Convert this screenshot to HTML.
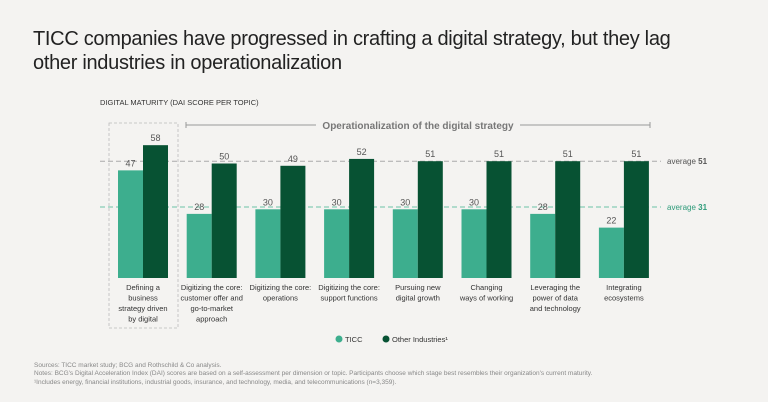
<!DOCTYPE html>
<html><head><meta charset="utf-8"><style>
body{margin:0;background:#f4f3f1;font-family:"Liberation Sans",sans-serif;}
#wrap{position:relative;width:768px;height:402px;overflow:hidden;}
.t{position:absolute;}
</style></head><body>
<div id="wrap">
<div class="t" style="left:33px;top:27px;font-size:20px;line-height:24px;color:#222;width:650px;letter-spacing:-0.3px">TICC companies have progressed in crafting a digital strategy, but they lag other industries in operationalization</div>
<div class="t" style="left:100px;top:98px;font-size:7.5px;color:#333">DIGITAL MATURITY (DAI SCORE PER TOPIC)</div>
<svg id="c" width="768" height="402" style="position:absolute;left:0;top:0"></svg>
<div class="t" style="left:34px;top:362px;font-size:6.5px;line-height:8.4px;color:#888">Sources: TICC market study; BCG and Rothschild &amp; Co analysis.<br>Notes: BCG's Digital Acceleration Index (DAI) scores are based on a self-assessment per dimension or topic. Participants choose which stage best resembles their organization's current maturity.<br>¹Includes energy, financial institutions, industrial goods, insurance, and technology, media, and telecommunications (n=3,359).</div>
</div>
<script>
const categories=[["Defining a","business","strategy driven","by digital"],["Digitizing the core:","customer offer and","go-to-market","approach"],["Digitizing the core:","operations"],["Digitizing the core:","support functions"],["Pursuing new","digital growth"],["Changing","ways of working"],["Leveraging the","power of data","and technology"],["Integrating","ecosystems"]];
const ticc=[47,28,30,30,30,30,28,22];
const other=[58,50,49,52,51,51,51,51];
const averages=[51,31];
const svg=document.getElementById('c');
const NS='http://www.w3.org/2000/svg';
const base=278,k=2.29;
const y=v=>base-v*k;
const cx=i=>143+i*68.7;
function mk(tag,a,txt){const e=document.createElementNS(NS,tag);for(const n in a)e.setAttribute(n,a[n]);if(txt!=null)e.textContent=txt;svg.appendChild(e);return e;}
const avgCol=['#aaa','#6cc3a8'],avgTxt=['#555','#2e9b7a'];
averages.forEach((a,j)=>{
 let l=mk('line',{x1:100,x2:661,y1:y(a),y2:y(a),stroke:avgCol[j],'stroke-dasharray':'5,3','stroke-width':1});
 
 let t=mk('text',{x:667,y:y(a)+3,'font-size':8,fill:avgTxt[j]},'average ');
 const ts=document.createElementNS(NS,'tspan');ts.setAttribute('font-weight','bold');ts.textContent=a;t.appendChild(ts);
 
});
let bx=mk('rect',{x:109,y:123,width:69,height:205,fill:'none',stroke:'#bbb','stroke-dasharray':'3,2','stroke-width':0.8});

mk('line',{x1:186,x2:316,y1:125,y2:125,stroke:'#999'});
mk('line',{x1:520,x2:650,y1:125,y2:125,stroke:'#999'});
mk('line',{x1:186,x2:186,y1:122,y2:128,stroke:'#999'});
mk('line',{x1:650,x2:650,y1:122,y2:128,stroke:'#999'});
let bt=mk('text',{x:418,y:129,'font-size':10,'font-weight':'bold',fill:'#777','text-anchor':'middle'},'Operationalization of the digital strategy');

categories.forEach((c,i)=>{
 const x=cx(i);
 let r1=mk('rect',{x:x-25,y:y(ticc[i]),width:25,height:ticc[i]*k,fill:'#3dae8e'});
 
 let r2=mk('rect',{x:x,y:y(other[i]),width:25,height:other[i]*k,fill:'#075233'});
 
 let v1=mk('text',{x:x-12.5,y:y(ticc[i])-4,'font-size':9,fill:'#555','text-anchor':'middle'},ticc[i]);
 
 let v2=mk('text',{x:x+12.5,y:y(other[i])-4,'font-size':9,fill:'#555','text-anchor':'middle'},other[i]);
 
 c.forEach((ln,j)=>{let t=mk('text',{x:x,y:290+j*10.5,'font-size':7.5,fill:'#333','text-anchor':'middle'},ln);
  });
});
let c1=mk('circle',{cx:339,cy:339,r:3.5,fill:'#3dae8e'});
let l1=mk('text',{x:345,y:342,'font-size':7.5,fill:'#333'},'TICC');
let c2=mk('circle',{cx:386,cy:339,r:3.5,fill:'#075233'});
let l2=mk('text',{x:392,y:342,'font-size':7.5,fill:'#333'},'Other Industries¹');
</script>
</body></html>
